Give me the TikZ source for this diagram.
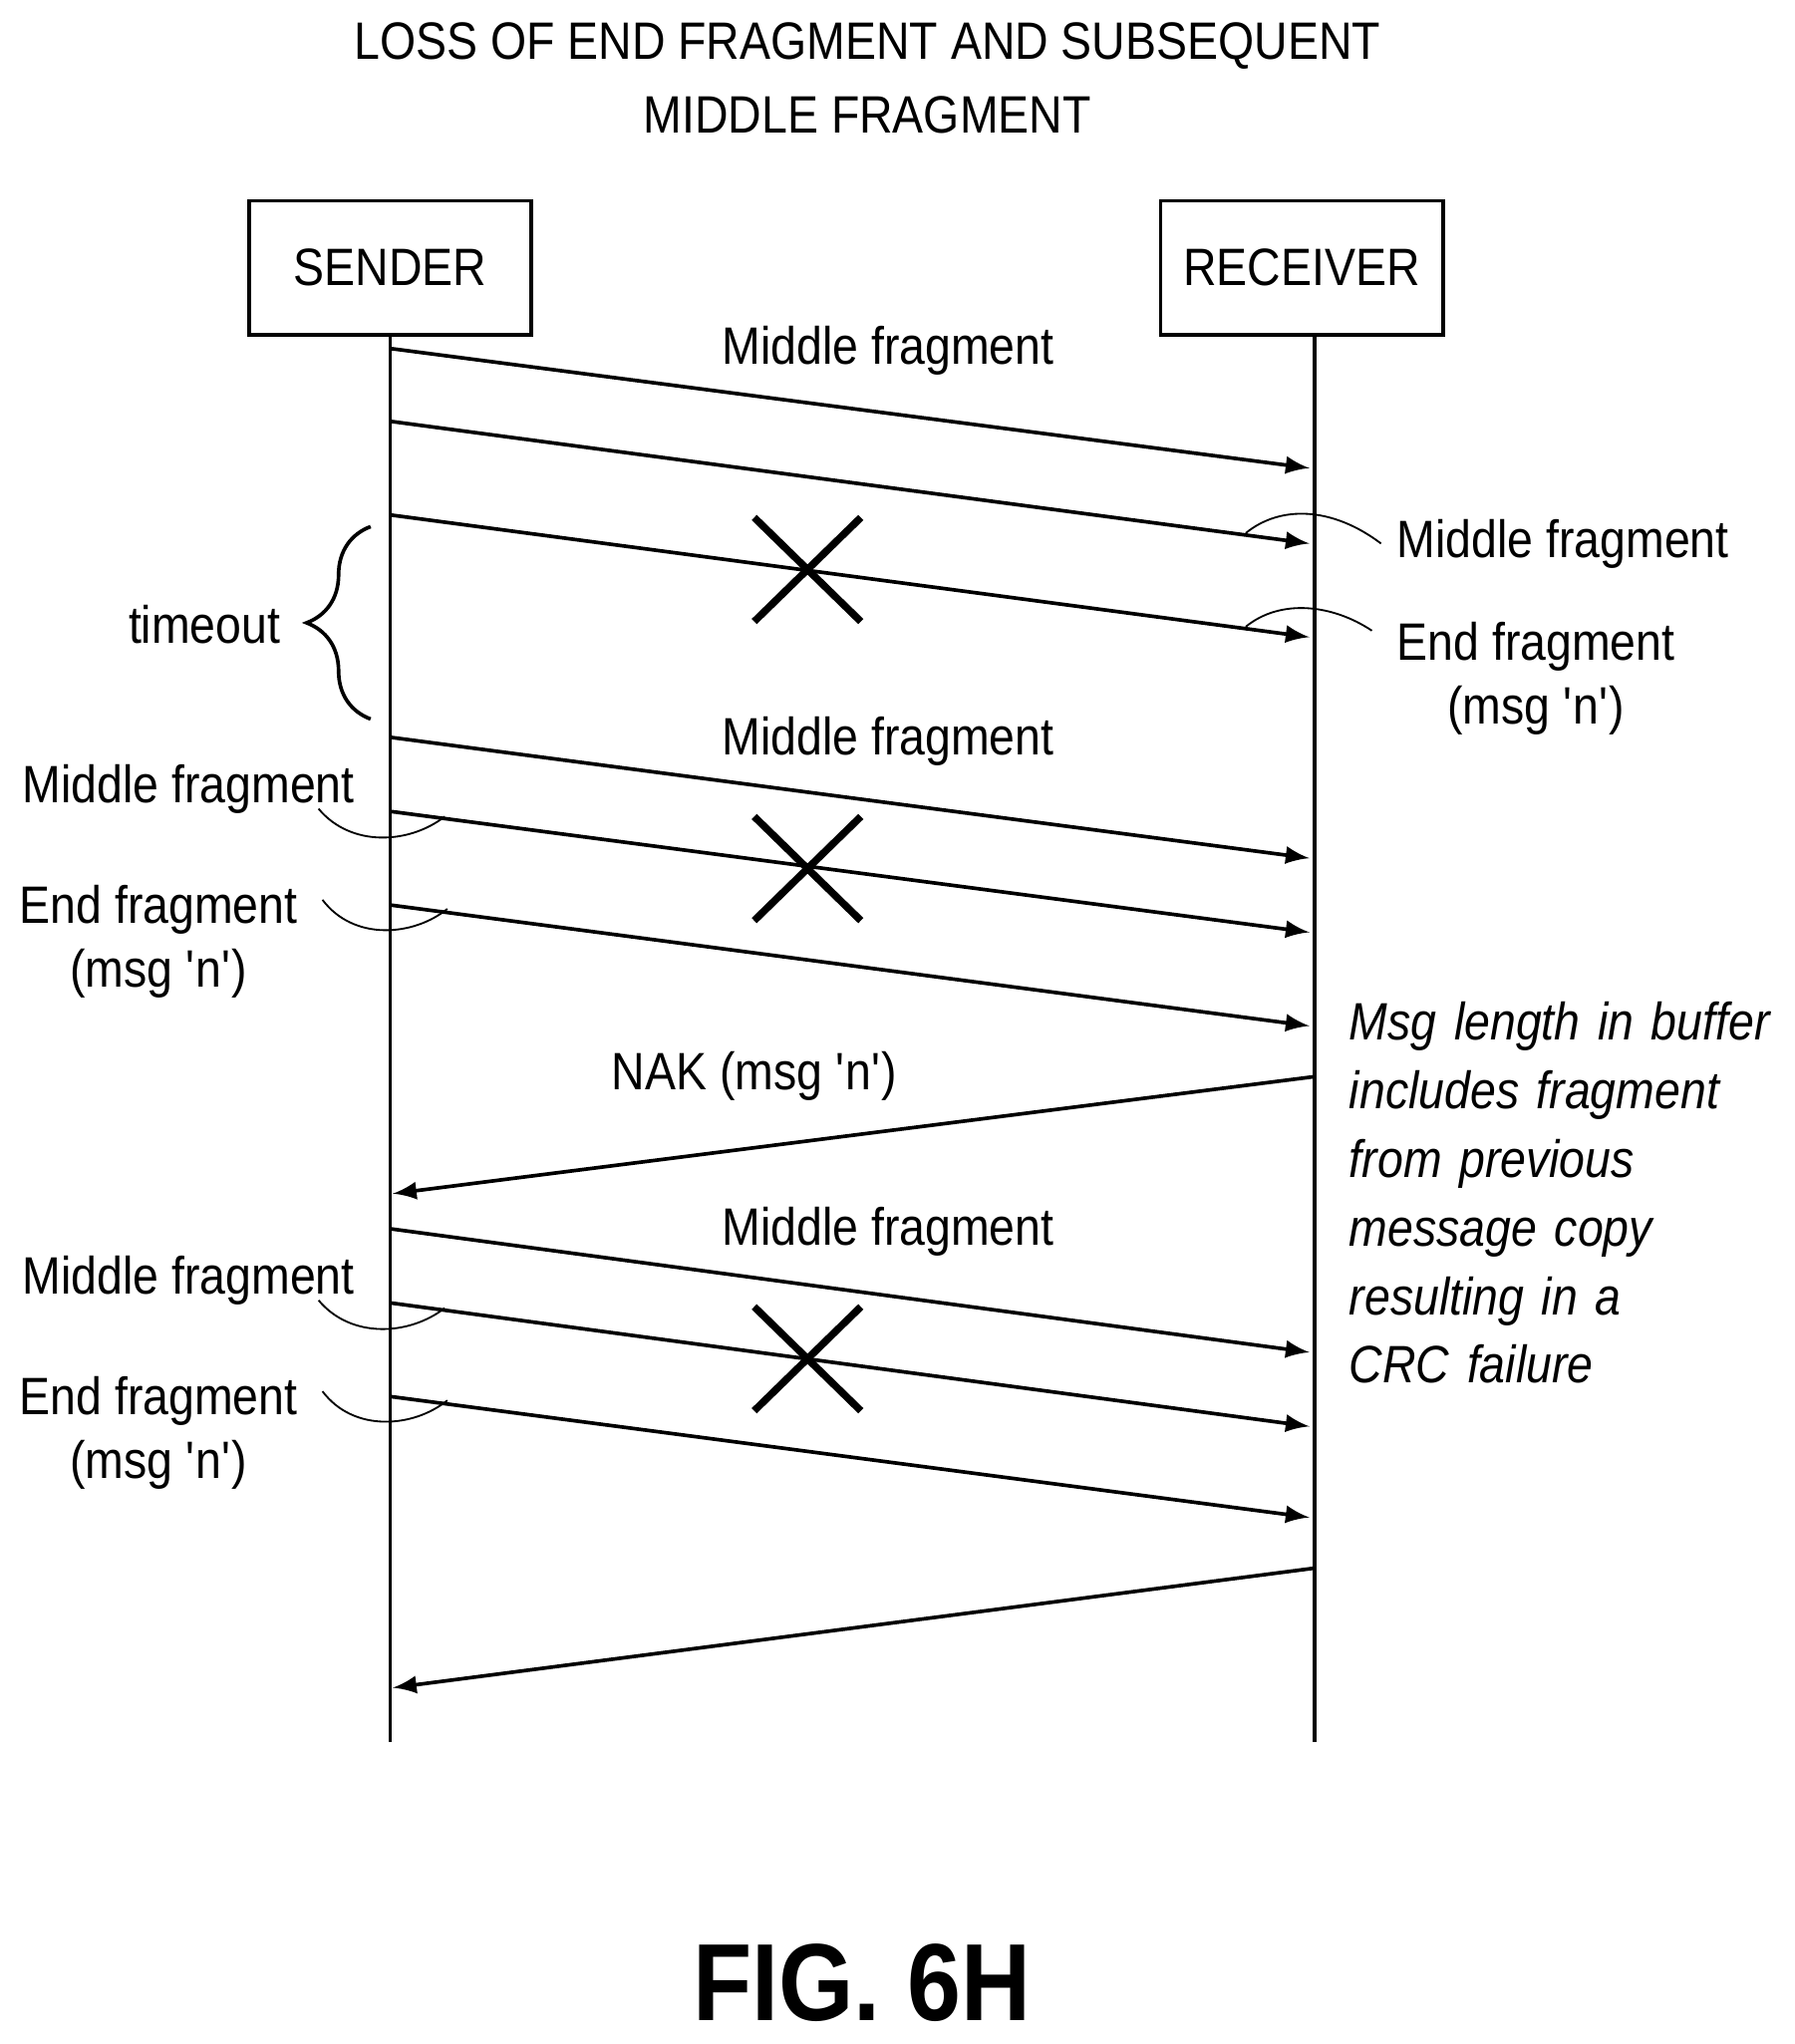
\documentclass[tikz,border=0pt]{standalone}
\usepackage{fontspec}
\setmainfont[FakeStretch=0.88]{Liberation Sans}
\usetikzlibrary{decorations.pathreplacing}
\newcommand{\qn}{\textquotesingle n\textquotesingle}
\begin{document}
\begin{tikzpicture}[x=0.01cm,y=-0.01cm,
  msg/.style={-latex, thick},
  lbl/.style={font=\fontsize{11.5}{14}\selectfont},
  lost/.style={line width=1.6pt},
  lead/.style={thin}]
\useasboundingbox (0,0) rectangle (1380,1572);
% title
\node[lbl, align=center] (title) at (667,60) {LOSS OF END FRAGMENT AND SUBSEQUENT\\[2pt] MIDDLE FRAGMENT};
% participants
\node[draw, thick, lbl, minimum width=2.17cm, minimum height=1.03cm] (snd) at (300,206) {SENDER};
\node[draw, thick, lbl, minimum width=2.17cm, minimum height=1.03cm] (rcv) at (1001,206) {RECEIVER};
\coordinate (sEnd) at (300,1340);
\coordinate (rEnd) at (1011,1340);
\draw[thick] (snd.south) -- (sEnd);
\draw[thick] (rcv.south -| rEnd) -- (rEnd);
% messages sender -> receiver
\foreach \i/\a/\b in {1/268/360, 2/324/418, 3/396/490, 4/567/660, 5/624/717,
                      6/696/789, 7/945/1040, 8/1002/1097, 9/1074/1167}{
  \coordinate (s\i) at (300,\a);
  \coordinate (r\i) at (1007,\b);
  \draw[msg] (s\i) -- (r\i);
}
% messages receiver -> sender
\coordinate (nakR) at (1011,828); \coordinate (nakS) at (302,918);
\coordinate (ackR) at (1011,1206); \coordinate (ackS) at (302,1298);
\draw[msg] (nakR) -- (nakS);
\draw[msg] (ackR) -- (ackS);
% lost fragments
\foreach \y in {438,668,1045}
  \draw[lost] (580,\y-40) -- (662,\y+40) (580,\y+40) -- (662,\y-40);
% labels
\node[lbl] (m1) at (683,270) {Middle fragment};
\node[lbl] (m4) at (683,570) {Middle fragment};
\node[lbl] (m7) at (683,947) {Middle fragment};
\node[lbl] (nak) at (580,828) {NAK (msg \qn)};
\node[lbl, anchor=west] (rm) at (1062,418) {Middle fragment};
\node[lbl, align=center, anchor=north west] (re) at (1062,466) {End fragment\\(msg \qn)};
\draw[lead] (958,410) .. controls (985,388) and (1025,390) .. (rm.west);
\draw[lead] (958,482) .. controls (985,460) and (1025,465) .. (1055,485);
% timeout
\draw[thick, decorate, decoration={brace, amplitude=14pt}] (285,553) -- (285,405);
\node[lbl, anchor=east] (tmo) at (228,480) {timeout};
% left labels
\foreach \n/\y in {a/607, b/985}{
  \node[lbl] (lm\n) at (145,\y) {Middle fragment};
  \node[lbl, align=center] (le\n) at (122,\y+117) {End fragment\\(msg \qn)};
  \draw[lead] (245,\y+15) .. controls (270,\y+45) and (315,\y+42) .. (342,\y+21);
  \draw[lead] (248,\y+85) .. controls (272,\y+117) and (318,\y+113) .. (344,\y+92);
}
% note
\node[lbl, font=\fontsize{11.5}{14}\selectfont\itshape, align=left, anchor=north west,
  text width=3.4cm, inner sep=0pt] (note) at (1037,770)
  {Msg length in buffer\\[1pt]includes fragment\\[1pt]from previous\\[1pt]message copy\\[1pt]resulting in a\\[1pt]CRC failure};
\node[font=\fontsize{24}{28}\selectfont\bfseries] (fig) at (663,1525) {FIG. 6H};
\end{tikzpicture}
\end{document}
